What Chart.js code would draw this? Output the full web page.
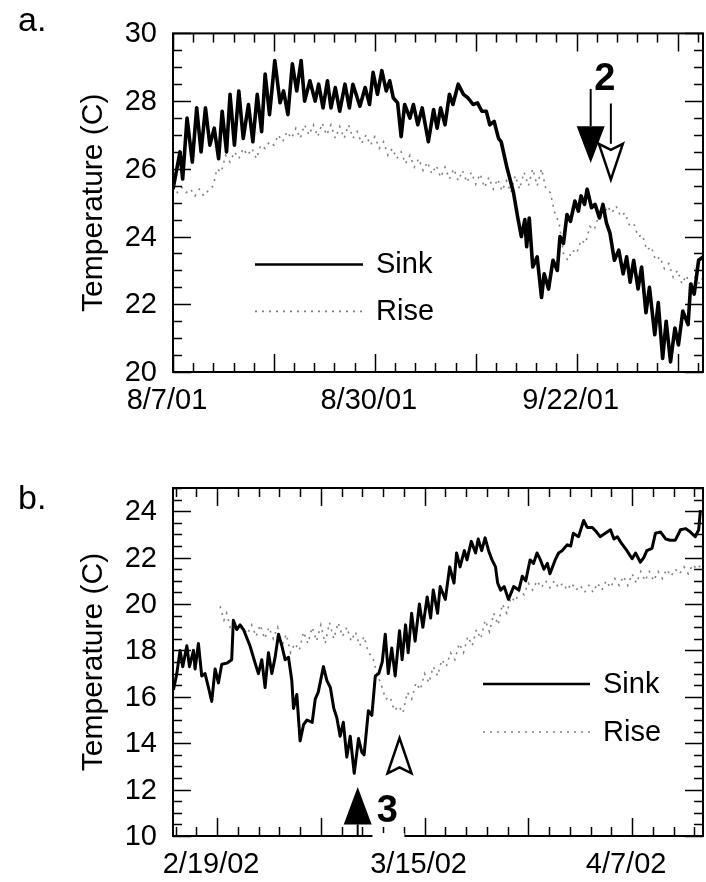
<!DOCTYPE html>
<html>
<head>
<meta charset="utf-8">
<script src="https://cdn.jsdelivr.net/npm/chart.js@4.4.1/dist/chart.umd.min.js"></script>
<style>
html, body { margin: 0; padding: 0; background: #fff; }
.panel { position: absolute; left: 0; width: 706px; height: 441px; }
</style>
</head>
<body>
<div class="panel" style="top:0"><canvas id="tempA" width="706" height="441"></canvas></div>
<div class="panel" style="top:441px"><canvas id="tempB" width="706" height="441"></canvas></div>
<script>
// ---- panel a: days since 8/7/01 ----
var dayLabelsA = ['8/7/01', '8/30/01', '9/22/01'];
var labelDaysA = [0, 23, 46];
var tempTicksA = [20, 22, 24, 26, 28, 30];

var sinkA = [[0,25.4],[0.8,26.5],[1.1,25.7],[1.6,27.5],[2.2,26.2],[2.7,27.8],[3.2,26.5],[3.7,27.8],[4.2,26.7],[4.7,27.2],
  [5.2,26.3],[5.6,27.7],[6.1,26.5],[6.5,28.2],[7.0,26.7],[7.5,28.3],[8.0,26.9],[8.6,27.9],[9.1,26.8],[9.6,28.2],
  [10.1,27.1],[10.5,28.8],[11.0,27.6],[11.6,29.2],[12.2,27.95],[12.6,28.3],[13.1,27.6],[13.6,29.1],[14.1,28.3],[14.6,29.2],
  [15.0,28.0],[15.6,28.6],[16.2,28.0],[16.6,28.5],[17.1,27.8],[17.6,28.6],[18.0,27.8],[18.5,28.4],[19.0,27.7],[19.6,28.5],
  [20.1,27.8],[20.5,28.5],[21.3,27.85],[21.9,28.4],[22.4,27.9],[22.8,28.85],[23.3,28.2],[23.8,28.9],[24.3,28.3],[24.7,28.6],
  [25.1,28.1],[25.6,27.95],[26.0,26.95],[26.4,27.9],[27.0,27.5],[27.4,27.9],[27.9,27.3],[28.4,27.8],[29.1,26.8],[29.7,27.75],
  [30.1,27.2],[30.5,27.8],[31.0,27.3],[31.5,28.2],[31.9,27.9],[32.5,28.5],[33.1,28.2],[33.6,28.1],[34.2,27.9],[34.7,27.95],
  [35.2,27.7],[35.7,27.7],[36.1,27.3],[36.6,27.4],[37.1,26.9],[37.4,26.8],[38.0,26.1],[38.4,25.7],[38.8,25.3],[39.3,24.55],
  [39.7,24.0],[40.1,24.5],[40.3,23.7],[40.6,24.55],[41.0,23.1],[41.5,23.4],[42.0,22.2],[42.3,22.9],[42.8,22.45],[43.3,23.3],
  [43.8,23.0],[44.1,24.0],[44.5,23.8],[44.9,24.65],[45.3,24.45],[45.8,25.05],[46.2,24.75],[46.5,25.2],[46.9,24.95],[47.2,25.4],
  [47.7,24.85],[48.1,24.95],[48.6,24.55],[49.0,24.95],[49.4,24.4],[49.8,24.1],[50.3,23.3],[50.8,23.6],[51.3,22.9],[51.7,23.4],
  [52.1,22.65],[52.5,23.3],[53.0,22.45],[53.4,23.1],[53.9,21.75],[54.3,22.5],[54.9,21.1],[55.3,22.05],[55.8,20.4],[56.2,21.5],
  [56.7,20.3],[57.2,21.3],[57.6,20.8],[58.1,21.8],[58.7,21.4],[59.0,22.6],[59.4,22.3],[59.9,23.3],[60.4,23.4]];

var riseA = [[0,25.5],[0.5,25.3],[1.0,25.45],[1.5,25.3],[2.0,25.4],[2.5,25.2],[3.0,25.4],[3.5,25.2],[4.0,25.35],[4.6,25.5],
  [5.0,26.0],[5.5,25.9],[6.0,26.4],[6.5,26.2],[7.0,26.5],[7.5,26.3],[8.0,26.6],[8.5,26.4],[9.0,26.6],[9.5,26.3],
  [10.0,26.7],[10.5,26.6],[11.0,26.8],[11.5,26.7],[12.0,27.0],[12.5,26.8],[13.0,27.1],[13.5,26.9],[14.0,27.2],[14.5,26.9],
  [15.0,27.3],[15.5,27.0],[16.0,27.3],[16.5,26.95],[17.0,27.35],[17.5,27.0],[18.0,27.3],[18.5,26.9],[19.0,27.25],[19.5,26.9],
  [20.0,27.3],[20.5,26.9],[21.0,27.1],[21.5,26.75],[22.0,27.0],[22.5,26.7],[23.0,26.95],[23.5,26.6],[24.0,26.8],[24.5,26.4],
  [25.0,26.6],[25.5,26.3],[26.0,26.5],[26.5,26.15],[27.0,26.4],[27.5,26.05],[28.0,26.3],[28.5,25.95],[29.0,26.2],[29.5,25.85],
  [30.0,26.1],[30.5,25.75],[31.0,26.05],[31.5,25.7],[32.0,26.0],[32.5,25.65],[33.0,25.95],[33.5,25.6],[34.0,25.9],[34.5,25.55],
  [35.0,25.85],[35.5,25.45],[36.0,25.75],[36.5,25.4],[37.0,25.7],[37.5,25.35],[38.0,25.65],[38.5,25.3],[39.0,25.8],[39.5,25.4],
  [40.0,25.9],[40.5,25.5],[41.0,26.0],[41.5,25.5],[42.0,26.0],[42.5,25.4],[43.0,25.3],[43.5,24.7],[44.0,24.4],[44.5,23.5],
  [45.0,23.3],[45.5,23.6],[46.0,23.5],[46.5,23.9],[47.0,23.8],[47.5,24.3],[48.0,24.2],[48.5,24.6],[49.0,24.5],[49.5,24.9],
  [50.0,24.7],[50.5,24.9],[51.0,24.6],[51.5,24.7],[52.0,24.35],[52.5,24.4],[53.0,24.0],[53.5,24.05],[54.0,23.6],[54.5,23.7],
  [55.0,23.3],[55.5,23.4],[56.0,23.05],[56.5,23.2],[57.0,22.8],[57.5,23.0],[58.0,22.6],[58.5,22.85],[59.0,22.5],[59.5,22.8],
  [60.0,22.6],[60.4,22.8]];

// ---- panel b: days since 2/19/02 ----
var dayLabelsB = ['2/19/02', '3/15/02', '4/7/02'];
var labelDaysB = [0, 24, 48];
var tempTicksB = [10, 12, 14, 16, 18, 20, 22, 24];

var sinkB = [[-5.05,16.3],[-4.66,17.0],[-4.28,18.0],[-3.97,17.3],[-3.5,18.2],[-3.2,17.3],[-2.73,18.0],[-2.55,17.2],[-2.16,18.3],[-1.78,16.9],
  [-1.39,17.0],[-1.0,16.4],[-0.62,15.8],[-0.23,17.2],[0.15,16.6],[0.54,17.4],[1.12,17.45],[1.69,17.6],[1.88,19.3],[2.27,18.9],
  [2.66,19.1],[3.05,18.9],[3.8,18.2],[4.4,17.45],[4.78,17.0],[5.17,17.6],[5.55,16.4],[5.94,17.9],[6.33,17.0],[6.71,17.7],
  [7.1,18.7],[7.49,18.2],[7.87,17.6],[8.26,17.7],[8.64,16.7],[8.84,15.5],[9.22,16.1],[9.6,14.1],[10.0,14.8],[10.4,15.0],
  [11.0,14.9],[11.35,15.9],[11.7,16.2],[12.3,17.3],[12.7,16.7],[13.1,16.4],[13.5,15.5],[13.85,15.1],[14.23,14.3],[14.6,14.9],
  [15.0,13.4],[15.4,14.3],[15.86,12.7],[16.36,14.2],[16.75,13.6],[17.0,13.5],[17.5,15.4],[17.9,15.2],[18.3,16.9],[18.7,17.0],
  [19.1,17.5],[19.45,18.7],[19.8,17.0],[20.2,18.1],[20.6,16.9],[21.1,18.85],[21.4,17.6],[21.8,19.1],[22.1,17.9],[22.5,19.6],
  [22.9,18.4],[23.4,20.0],[23.8,19.0],[24.3,20.3],[24.7,19.4],[25.0,20.6],[25.5,19.6],[25.8,20.75],[26.4,20.2],[26.9,21.6],
  [27.4,20.9],[27.7,22.2],[28.1,21.6],[28.6,22.3],[28.9,21.9],[29.4,22.7],[29.9,22.2],[30.2,22.8],[30.6,22.3],[31.0,22.85],
  [31.4,22.3],[31.8,21.9],[32.2,21.6],[32.45,20.9],[32.8,20.6],[33.2,20.75],[33.7,20.2],[34.3,20.75],[34.9,20.6],[35.3,21.2],
  [35.7,21.0],[36.2,21.9],[36.6,21.75],[37.0,22.2],[37.4,21.9],[37.8,21.5],[38.2,21.75],[38.5,21.3],[39.1,21.9],[39.5,22.2],
  [39.9,22.3],[40.5,22.55],[40.9,22.5],[41.2,23.05],[41.8,22.9],[42.4,23.6],[42.8,23.3],[43.4,23.3],[43.9,23.1],[44.3,22.9],
  [44.9,23.05],[45.5,23.2],[45.9,22.8],[46.3,22.9],[46.8,22.6],[47.4,22.3],[48.0,21.95],[48.4,22.2],[48.96,21.8],[49.35,22.0],
  [49.7,22.3],[50.3,22.4],[50.7,23.05],[51.3,23.1],[51.9,22.8],[52.4,22.75],[53.0,22.75],[53.6,23.2],[54.2,23.25],[54.75,23.1],
  [55.3,22.9],[55.7,23.2],[55.9,24.05]];

var riseB = [[0.35,19.9],[0.8,19.3],[1.1,19.6],[1.5,19.0],[2.0,19.2],[2.5,18.8],[3.0,19.0],[3.5,18.7],[4.0,19.1],[4.5,18.6],
  [5.0,19.1],[5.5,18.5],[6.0,19.0],[6.5,18.5],[7.0,19.0],[7.5,18.2],[8.0,18.7],[8.5,17.9],[9.0,18.3],[9.5,18.0],
  [10.0,18.8],[10.5,18.3],[11.0,19.0],[11.5,18.4],[12.0,19.1],[12.5,18.3],[13.0,19.2],[13.5,18.5],[14.0,19.2],[14.5,18.6],
  [15.0,19.0],[15.5,18.4],[16.0,18.8],[16.5,18.2],[17.0,18.6],[17.5,17.9],[18.0,17.7],[18.5,17.0],[19.0,16.5],[19.5,15.9],
  [20.0,16.0],[20.5,15.4],[21.0,15.6],[21.5,15.3],[22.0,16.2],[22.5,15.9],[23.0,16.6],[23.5,16.3],[24.0,17.0],[24.5,16.6],
  [25.0,17.3],[25.5,16.9],[26.0,17.6],[26.5,17.3],[27.0,17.9],[27.5,17.6],[28.0,18.3],[28.5,17.9],[29.0,18.6],[29.5,18.2],
  [30.0,18.9],[30.5,18.5],[31.0,19.3],[31.5,18.8],[32.0,19.6],[32.5,19.1],[33.0,20.0],[33.5,19.6],[34.0,20.3],[34.5,20.1],
  [35.0,20.6],[35.5,20.4],[36.0,20.9],[36.5,20.6],[37.0,21.0],[37.5,20.7],[38.0,21.0],[38.5,20.7],[39.0,21.0],[39.5,20.7],
  [40.0,20.9],[40.5,20.6],[41.0,20.9],[41.5,20.6],[42.0,20.8],[42.5,20.5],[43.0,20.8],[43.5,20.5],[44.0,20.9],[44.5,20.6],
  [45.0,21.0],[45.5,20.7],[46.0,21.1],[46.5,20.8],[47.0,21.2],[47.5,20.8],[48.0,21.3],[48.5,20.9],[49.0,21.4],[49.5,21.0],
  [50.0,21.4],[50.5,21.0],[51.0,21.4],[51.5,21.1],[52.0,21.5],[52.5,21.2],[53.0,21.5],[53.5,21.3],[54.0,21.6],[54.5,21.3],
  [55.0,21.7],[55.5,21.5],[56.0,21.7]];

// arrows: day, shaft start, head base, tip (temperatures)
var arrowsA = [
  {day: 47.6, from: 28.36, base: 27.26, tip: 26.17, filled: true},
  {day: 49.9, from: 27.93, base: 26.74, tip: 25.68, filled: false}
];
var arrowsB = [
  {day: 16.26, from: 10.0, base: 10.5, tip: 12.11, filled: true},
  {day: 21.1, from: 12.7, base: 12.7, tip: 14.22, filled: false}
];
var notesA = [{text: '2', day: 49.2, temp: 28.33, gap: false}];
var notesB = [{text: '3', day: 19.7, temp: 10.6, gap: true}];

var FONT = "'Liberation Sans', Arial, sans-serif";
Chart.defaults.font.family = FONT;
Chart.defaults.color = '#000';

function pts(arr) {
  return arr.map(function (p) { return {x: p[0], y: p[1]}; });
}

// frame plus inward minor/major tick marks on all four sides
var frameTicks = {
  id: 'frameTicks',
  afterDatasetsDraw: function (chart, args, o) {
    var ctx = chart.ctx, a = chart.chartArea, x = chart.scales.x, y = chart.scales.y;
    var isMajor = function (v, m) { return Math.abs(v / m - Math.round(v / m)) < 1e-6; };
    ctx.save();
    ctx.strokeStyle = '#000';
    ctx.lineWidth = 1.5;
    ctx.beginPath();
    for (var k = 0; ; k++) {
      var v = o.xStart + k * o.xStep;
      if (v > x.max) break;
      var px = Math.round(x.getPixelForValue(v)) + 0.5;
      var len = isMajor(v, o.xMajor) ? 18 : 9;
      ctx.moveTo(px, a.bottom); ctx.lineTo(px, a.bottom - len);
      ctx.moveTo(px, a.top); ctx.lineTo(px, a.top + len);
    }
    for (var j = 0; ; j++) {
      var t = o.yStart + j * o.yStep;
      if (t > y.max) break;
      var py = Math.round(y.getPixelForValue(t)) + 0.5;
      var l2 = isMajor(t, o.yMajor) ? 18 : 9;
      ctx.moveTo(a.left, py); ctx.lineTo(a.left + l2, py);
      ctx.moveTo(a.right, py); ctx.lineTo(a.right - l2, py);
    }
    ctx.stroke();
    ctx.lineWidth = 2;
    ctx.strokeRect(a.left, a.top, a.right - a.left, a.bottom - a.top);
    ctx.restore();
  }
};

// legend drawn inside the plot, one row per dataset
var innerLegend = {
  id: 'innerLegend',
  afterDraw: function (chart, args, o) {
    var ctx = chart.ctx, a = chart.chartArea;
    ctx.save();
    chart.data.datasets.forEach(function (ds, i) {
      var ly = a.top + o.rows[i];
      ctx.beginPath();
      ctx.strokeStyle = ds.borderColor;
      ctx.lineWidth = Math.min(ds.borderWidth, 2.5);
      ctx.setLineDash(ds.borderDash || []);
      ctx.moveTo(a.left + o.lineFrom, ly);
      ctx.lineTo(a.left + o.lineTo, ly);
      ctx.stroke();
      ctx.setLineDash([]);
      ctx.fillStyle = '#000';
      ctx.font = '29px ' + FONT;
      ctx.textBaseline = 'middle';
      ctx.textAlign = 'left';
      ctx.fillText(ds.label, a.left + o.textAt, ly + 1);
    });
    ctx.restore();
  }
};

// panel letter, arrows and numbered notes
var marks = {
  id: 'marks',
  afterDraw: function (chart, args, o) {
    var ctx = chart.ctx, x = chart.scales.x, y = chart.scales.y;
    ctx.save();
    ctx.fillStyle = '#000';
    ctx.font = '34px ' + FONT;
    ctx.textBaseline = 'alphabetic';
    ctx.textAlign = 'left';
    ctx.fillText(o.letter, 18, o.letterY);

    o.arrows.forEach(function (ar) {
      var px = x.getPixelForValue(ar.day);
      var yFrom = y.getPixelForValue(ar.from);
      var yBase = y.getPixelForValue(ar.base);
      var yTip = y.getPixelForValue(ar.tip);
      var dir = yTip > yBase ? 1 : -1;
      ctx.strokeStyle = '#000';
      ctx.lineWidth = 2;
      if (yFrom !== yBase) {
        ctx.beginPath();
        ctx.moveTo(px, yFrom);
        ctx.lineTo(px, yBase);
        ctx.stroke();
      }
      ctx.beginPath();
      if (ar.filled) {
        ctx.moveTo(px - 14, yBase);
        ctx.lineTo(px + 14, yBase);
        ctx.lineTo(px, yTip);
        ctx.closePath();
        ctx.fill();
      } else {
        ctx.moveTo(px - 12, yBase);
        ctx.lineTo(px, yBase + dir * 6);
        ctx.lineTo(px + 12, yBase);
        ctx.lineTo(px, yTip);
        ctx.closePath();
        ctx.fillStyle = '#fff';
        ctx.fill();
        ctx.lineWidth = 2.5;
        ctx.stroke();
        ctx.fillStyle = '#000';
      }
    });

    o.notes.forEach(function (n) {
      var px = x.getPixelForValue(n.day);
      var py = y.getPixelForValue(n.temp);
      ctx.font = 'bold 38px ' + FONT;
      ctx.textAlign = 'center';
      ctx.textBaseline = 'alphabetic';
      if (n.gap) {
        ctx.fillStyle = '#fff';
        ctx.fillRect(px - 15, chart.chartArea.bottom - 3, 32, 6);
        ctx.fillStyle = '#000';
      }
      ctx.fillText(n.text, px, py);
    });
    ctx.restore();
  }
};

function tempChart(id, p) {
  return new Chart(document.getElementById(id), {
    type: 'line',
    data: {
      datasets: [{
        label: 'Sink',
        data: pts(p.sink),
        borderColor: '#000',
        borderWidth: p.sinkWidth,
        borderJoinStyle: 'round',
        pointRadius: 0,
        tension: 0
      }, {
        label: 'Rise',
        data: pts(p.rise),
        borderColor: '#808080',
        borderWidth: 1.6,
        borderDash: [2, 5],
        pointRadius: 0,
        tension: 0
      }]
    },
    options: {
      responsive: false,
      animation: false,
      events: [],
      layout: {padding: {left: 60, right: 3, top: p.top, bottom: 0}},
      plugins: {
        legend: {display: false},
        tooltip: {enabled: false},
        frameTicks: p.ticks,
        innerLegend: p.legend,
        marks: {letter: p.letter, letterY: p.letterY, arrows: p.arrows, notes: p.notes}
      },
      scales: {
        x: {
          type: 'linear',
          min: p.xMin,
          max: p.xMax,
          grid: {display: false, drawTicks: false},
          border: {display: false},
          afterBuildTicks: function (s) { s.ticks = p.labelDays.map(function (v) { return {value: v}; }); },
          afterFit: function (s) { s.height = p.xHeight; },
          ticks: {
            autoSkip: false,
            maxRotation: 0,
            padding: 12,
            labelOffset: -6,
            font: {size: 29},
            callback: function (v, i) { return p.dayLabels[i]; }
          }
        },
        y: {
          min: p.yMin,
          max: p.yMax,
          grid: {display: false, drawTicks: false},
          border: {display: false},
          afterBuildTicks: function (s) { s.ticks = p.tempTicks.map(function (v) { return {value: v}; }); },
          afterFit: function (s) { s.width = 113; },
          ticks: {padding: 16, labelOffset: 1, font: {size: 29}},
          title: {
            display: true,
            text: 'Temperature (C)',
            font: {size: 30},
            padding: {top: 16, bottom: 0}
          }
        }
      }
    },
    plugins: [frameTicks, innerLegend, marks]
  });
}

tempChart('tempA', {
  sink: sinkA, rise: riseA, sinkWidth: 3.6,
  xMin: 0, xMax: 60.4, yMin: 20, yMax: 30,
  labelDays: labelDaysA, dayLabels: dayLabelsA, tempTicks: tempTicksA,
  top: 25, xHeight: 69,
  ticks: {xStart: 0, xStep: 2.3, xMajor: 11.5, yStart: 20, yStep: 0.5, yMajor: 2},
  legend: {rows: [231, 278], lineFrom: 82, lineTo: 190, textAt: 203},
  letter: 'a.', letterY: 31,
  arrows: arrowsA, notes: notesA
});

tempChart('tempB', {
  sink: sinkB, rise: riseB, sinkWidth: 3,
  xMin: -5.1, xMax: 56.2, yMin: 10, yMax: 25,
  labelDays: labelDaysB, dayLabels: dayLabelsB, tempTicks: tempTicksB,
  top: 47, xHeight: 46,
  ticks: {xStart: -4.8, xStep: 2.4, xMajor: 12, yStart: 10, yStep: 0.5, yMajor: 2},
  legend: {rows: [196, 244], lineFrom: 310, lineTo: 417, textAt: 430},
  letter: 'b.', letterY: 68,
  arrows: arrowsB, notes: notesB
});
</script>
</body>
</html>
